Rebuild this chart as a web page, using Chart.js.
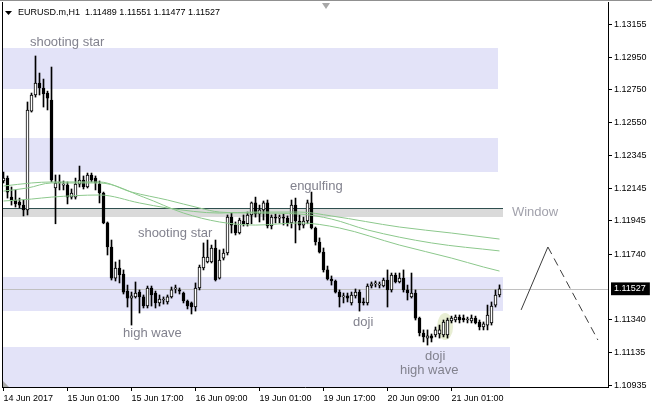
<!DOCTYPE html>
<html>
<head>
<meta charset="utf-8">
<script src="https://cdn.jsdelivr.net/npm/chart.js@4.4.1/dist/chart.umd.min.js"></script>
<style>
html, body { margin: 0; padding: 0; background: #fff; }
</style>
</head>
<body>
<canvas id="priceChart" width="652" height="409"></canvas>
<script>
// EURUSD.m H1, one bar per hour
var opens = [1.12190,1.12208,1.12091,1.12073,1.12061,1.12042,1.12012,1.12620,1.12719,1.12793,
  1.12762,1.12731,1.12688,1.12147,1.12178,1.12165,1.12165,1.12091,1.12091,1.12171,
  1.12196,1.12153,1.12227,1.12208,1.12171,1.12116,1.11932,1.11784,1.11593,1.11655,
  1.11618,1.11513,1.11470,1.11477,1.11507,1.11477,1.11421,1.11532,1.11501,1.11440,
  1.11458,1.11446,1.11477,1.11527,1.11520,1.11501,1.11452,1.11440,1.11415,1.11532,
  1.11655,1.11692,1.11692,1.11778,1.11593,1.11716,1.11747,1.11968,1.11919,1.11870,
  1.11944,1.11927,1.11981,1.12055,1.11987,1.12012,1.12055,1.11913,1.11968,1.11962,
  1.11968,1.11962,1.11932,1.12042,1.11944,1.11919,1.11944,1.12055,1.11901,1.11815,
  1.11753,1.11643,1.11587,1.11575,1.11507,1.11477,1.11483,1.11440,1.11483,1.11507,
  1.11446,1.11440,1.11544,1.11557,1.11550,1.11544,1.11581,1.11520,1.11612,1.11569,
  1.11593,1.11520,1.11477,1.11501,1.11347,1.11255,1.11224,1.11237,1.11243,1.11249,
  1.11243,1.11243,1.11329,1.11335,1.11353,1.11347,1.11335,1.11329,1.11347,1.11323,
  1.11292,1.11304,1.11317,1.11427,1.11489];
var highs = [1.12245,1.12221,1.12153,1.12135,1.12085,1.12073,1.12676,1.12731,1.12959,1.12854,
  1.12817,1.12743,1.12891,1.12227,1.12227,1.12190,1.12184,1.12141,1.12208,1.12282,
  1.12221,1.12239,1.12239,1.12221,1.12190,1.12122,1.11938,1.11827,1.11692,1.11704,
  1.11643,1.11550,1.11507,1.11569,1.11520,1.11489,1.11544,1.11544,1.11513,1.11489,
  1.11477,1.11489,1.11538,1.11550,1.11532,1.11507,1.11458,1.11446,1.11563,1.11673,
  1.11809,1.11827,1.11796,1.11827,1.11766,1.11772,1.11981,1.11993,1.11938,1.11962,
  1.11981,1.11999,1.12061,1.12091,1.12042,1.12067,1.12073,1.11981,1.11987,1.11981,
  1.11987,1.11975,1.12073,1.12085,1.11981,1.11968,1.12073,1.12122,1.11907,1.11840,
  1.11778,1.11667,1.11606,1.11581,1.11520,1.11501,1.11501,1.11507,1.11526,1.11520,
  1.11470,1.11557,1.11569,1.11575,1.11569,1.11593,1.11643,1.11624,1.11624,1.11624,
  1.11643,1.11550,1.11624,1.11520,1.11353,1.11274,1.11274,1.11249,1.11292,1.11304,
  1.11335,1.11347,1.11359,1.11366,1.11366,1.11366,1.11353,1.11366,1.11359,1.11335,
  1.11323,1.11427,1.11446,1.11520,1.11551];
var lows = [1.12178,1.12085,1.12042,1.12030,1.12024,1.11975,1.11981,1.12614,1.12706,1.12719,
  1.12645,1.12627,1.12184,1.11927,1.12135,1.12135,1.12049,1.12079,1.12079,1.12153,
  1.12141,1.12147,1.12184,1.12135,1.12055,1.11927,1.11735,1.11581,1.11575,1.11563,
  1.11495,1.11415,1.11304,1.11470,1.11378,1.11409,1.11409,1.11421,1.11409,1.11421,
  1.11433,1.11433,1.11470,1.11501,1.11495,1.11440,1.11403,1.11372,1.11390,1.11520,
  1.11643,1.11686,1.11686,1.11575,1.11587,1.11704,1.11735,1.11870,1.11858,1.11864,
  1.11913,1.11913,1.11927,1.11968,1.11938,1.11950,1.11901,1.11895,1.11932,1.11932,
  1.11919,1.11913,1.11901,1.11809,1.11889,1.11901,1.11927,1.11895,1.11796,1.11747,
  1.11630,1.11581,1.11550,1.11501,1.11415,1.11440,1.11446,1.11427,1.11470,1.11390,
  1.11427,1.11427,1.11532,1.11538,1.11532,1.11538,1.11415,1.11507,1.11563,1.11563,
  1.11507,1.11458,1.11470,1.11335,1.11237,1.11200,1.11181,1.11200,1.11231,1.11224,
  1.11231,1.11224,1.11317,1.11323,1.11317,1.11323,1.11317,1.11317,1.11311,1.11274,
  1.11274,1.11274,1.11304,1.11415,1.11477];
var closes = [1.12208,1.12122,1.12067,1.12049,1.12042,1.12012,1.12627,1.12719,1.12793,1.12762,
  1.12725,1.12700,1.12196,1.12178,1.12184,1.12165,1.12091,1.12116,1.12171,1.12196,
  1.12153,1.12227,1.12196,1.12178,1.12116,1.11932,1.11784,1.11593,1.11655,1.11612,
  1.11507,1.11470,1.11483,1.11501,1.11477,1.11421,1.11532,1.11489,1.11440,1.11464,
  1.11458,1.11477,1.11520,1.11532,1.11513,1.11452,1.11421,1.11415,1.11532,1.11661,
  1.11722,1.11722,1.11778,1.11581,1.11704,1.11747,1.11968,1.11919,1.11870,1.11950,
  1.11927,1.11981,1.12055,1.11987,1.12012,1.12055,1.11913,1.11968,1.11962,1.11968,
  1.11962,1.11932,1.12042,1.11944,1.11919,1.11944,1.12055,1.11901,1.11815,1.11753,
  1.11643,1.11587,1.11575,1.11507,1.11477,1.11477,1.11470,1.11489,1.11507,1.11440,
  1.11440,1.11544,1.11557,1.11557,1.11550,1.11581,1.11520,1.11612,1.11569,1.11593,
  1.11520,1.11501,1.11501,1.11347,1.11255,1.11231,1.11237,1.11224,1.11274,1.11274,
  1.11323,1.11335,1.11347,1.11353,1.11335,1.11335,1.11335,1.11347,1.11317,1.11292,
  1.11311,1.11366,1.11421,1.11489,1.11527];

// moving averages, sampled at a few bars
var maFastBars = [0, 6, 12, 24, 35, 45, 54, 63, 74, 84, 99, 112, 120, 124];
var maFastVals = [1.12128,1.12147,1.12178,1.12178,1.12091,1.11993,1.11938,1.11919,1.11932,1.11901,1.11796,1.11716,1.11661,1.11636];
var maMidBars = [0, 7, 12, 24, 32, 41, 49, 54, 63, 74, 82, 91, 107, 124];
var maMidVals = [1.12159,1.12178,1.12184,1.12184,1.12122,1.12073,1.12024,1.11999,1.11993,1.11987,1.11956,1.11889,1.11809,1.11760];
var maSlowBars = [0, 7, 12, 24, 34, 41, 54, 63, 74, 82, 99, 112, 124];
var maSlowVals = [1.12067,1.12079,1.12091,1.12104,1.12055,1.12024,1.11993,1.11999,1.11999,1.11975,1.11907,1.11870,1.11833];

var timeBars = [0, 16, 32, 48, 64, 80, 96, 112];
var timeLabels = ["14 Jun 2017", "15 Jun 01:00", "15 Jun 17:00", "16 Jun 09:00", "19 Jun 01:00", "19 Jun 17:00", "20 Jun 09:00", "21 Jun 01:00"];
var priceTicks = [1.13155, 1.12950, 1.12750, 1.12550, 1.12345, 1.12145, 1.11945, 1.11740, 1.11340, 1.11135, 1.10935];
var lastPrice = 1.11527;

// drawn objects: rectangles, texts, zigzag
var zoneTops = [1.13008, 1.12454, 1.12024, 1.11599, 1.11169];
var zoneBottoms = [1.12756, 1.12245, 1.11968, 1.11390, 1.10900];
var zoneEnds = [123.6, 123.6, 124.9, 124.9, 126.6];
var windowZone = 2;
var noteTexts = ["shooting star", "engulfing", "Window", "shooting star", "high wave", "doji", "doji", "high wave"];
var noteBars = [6.6, 71.6, 127.1, 33.6, 29.9, 87.4, 105.4, 99.1];
var notePrices = [1.13045, 1.12159, 1.11999, 1.11870, 1.11255, 1.11323, 1.11114, 1.11028];
var zigBars = [129.4, 136.1, 148.6];
var zigPrices = [1.11397, 1.11784, 1.11212];
var hiliteBar = 110.4, hilitePrice = 1.11295;

var tickFont = { family: '"Liberation Sans", Arial, sans-serif', size: 9 };

var bars = opens.map(function (v, i) { return i; });
var wickData = bars.map(function (i) {
  return { x: i, y: [Math.min(lows[i], opens[i], closes[i]), Math.max(highs[i], opens[i], closes[i])] };
});
var bodyData = bars.map(function (i) { return { x: i, y: [opens[i], closes[i]] }; });
var bodyFill = bars.map(function (i) { return closes[i] >= opens[i] ? '#ffffff' : '#000000'; });

function pts(xs, ys) {
  return xs.map(function (b, k) { return { x: b, y: ys[k] }; });
}

var chartDecor = {
  id: 'chartDecor',
  beforeDatasetsDraw: function (chart) {
    var c = chart.ctx, a = chart.chartArea, x = chart.scales.x, y = chart.scales.y;
    c.save();
    c.beginPath();
    c.rect(a.left, a.top, a.right - a.left, a.bottom - a.top);
    c.clip();
    zoneTops.forEach(function (t, k) {
      var xe = Math.round(x.getPixelForValue(zoneEnds[k]));
      var y1 = Math.round(y.getPixelForValue(t)), y2 = Math.round(y.getPixelForValue(zoneBottoms[k]));
      c.fillStyle = k === windowZone ? '#dadada' : '#e3e3f8';
      c.fillRect(a.left, y1, xe - a.left, y2 - y1);
      if (k === windowZone) {
        c.fillStyle = '#2f4f4f';
        c.fillRect(a.left, y1, xe - a.left, 1);
      }
    });
    // current price line
    var py = Math.round(y.getPixelForValue(lastPrice)) + 0.5;
    c.strokeStyle = '#c0c0c0';
    c.lineWidth = 1;
    c.beginPath();
    c.moveTo(a.left, py);
    c.lineTo(a.right, py);
    c.stroke();
    // highlight around the doji
    var cx = x.getPixelForValue(hiliteBar), cy = y.getPixelForValue(hilitePrice);
    var rx = x.getPixelForValue(hiliteBar + 2) - cx;
    var ry = y.getPixelForValue(hilitePrice - 0.00083) - cy;
    c.fillStyle = '#e8eed3';
    c.beginPath();
    c.ellipse(cx, cy, rx, ry, 0, 0, Math.PI * 2);
    c.fill();
    c.restore();
  },
  afterDatasetsDraw: function (chart) {
    var c = chart.ctx, x = chart.scales.x, y = chart.scales.y;
    c.save();
    c.font = '13px "Liberation Sans", Arial, sans-serif';
    c.textAlign = 'left';
    c.textBaseline = 'middle';
    noteTexts.forEach(function (t, k) {
      c.fillStyle = t === 'Window' ? '#a2a2ac' : '#82828e';
      c.fillText(t, x.getPixelForValue(noteBars[k]), y.getPixelForValue(notePrices[k]));
    });
    c.restore();
  },
  afterDraw: function (chart) {
    var c = chart.ctx, a = chart.chartArea;
    c.save();
    c.fillStyle = '#909090';
    c.fillRect(0, 0, chart.width, 1);
    c.fillStyle = '#000';
    c.fillRect(a.left, a.top, 1, a.bottom - a.top);
    // header
    c.beginPath();
    c.moveTo(5, 11); c.lineTo(12, 11); c.lineTo(8.5, 15); c.closePath();
    c.fill();
    c.font = '9px "Liberation Sans", Arial, sans-serif';
    c.textBaseline = 'middle';
    c.fillText('EURUSD.m,H1  1.11489 1.11551 1.11477 1.11527', 18, 13);
    // shift marker and corner marker
    c.fillStyle = '#a8a8a8';
    c.beginPath();
    c.moveTo(322, 3); c.lineTo(330, 3); c.lineTo(326, 9); c.closePath();
    c.fill();
    c.beginPath();
    c.moveTo(a.left + 1, a.bottom - 6); c.lineTo(a.left + 1, a.bottom); c.lineTo(a.left + 7, a.bottom); c.closePath();
    c.fill();
    c.restore();
  }
};

var config = {
  type: 'bar',
  data: {
    datasets: [{
      label: 'bodies',
      data: bodyData,
      backgroundColor: bodyFill,
      borderColor: '#000',
      borderWidth: 1,
      borderSkipped: false,
      barThickness: 3,
      minBarLength: 1,
      grouped: false,
      order: 2
    }, {
      label: 'wicks',
      data: wickData,
      backgroundColor: '#000',
      borderWidth: 0,
      barThickness: 1,
      grouped: false,
      order: 3
    }, {
      type: 'line', label: 'MA fast', data: pts(maFastBars, maFastVals),
      borderColor: '#8cc88c', borderWidth: 1, pointRadius: 0, cubicInterpolationMode: 'monotone', order: 1
    }, {
      type: 'line', label: 'MA mid', data: pts(maMidBars, maMidVals),
      borderColor: '#8cc88c', borderWidth: 1, pointRadius: 0, cubicInterpolationMode: 'monotone', order: 1
    }, {
      type: 'line', label: 'MA slow', data: pts(maSlowBars, maSlowVals),
      borderColor: '#8cc88c', borderWidth: 1, pointRadius: 0, cubicInterpolationMode: 'monotone', order: 1
    }, {
      type: 'line', label: 'up leg', data: pts(zigBars.slice(0, 2), zigPrices.slice(0, 2)),
      borderColor: '#3c3c3c', borderWidth: 1, pointRadius: 0, order: 0
    }, {
      type: 'line', label: 'down leg', data: pts(zigBars.slice(1), zigPrices.slice(1)),
      borderColor: '#3c3c3c', borderWidth: 1, borderDash: [8, 5], pointRadius: 0, order: 0
    }]
  },
  options: {
    responsive: false,
    devicePixelRatio: 1,
    animation: false,
    layout: { padding: { left: 2, top: 2, right: 0, bottom: 0 } },
    plugins: {
      legend: { display: false },
      tooltip: { enabled: false }
    },
    scales: {
      x: {
        type: 'linear',
        min: -0.375,
        max: 151.125,
        offset: false,
        grid: { display: true, offset: false, drawOnChartArea: false, drawTicks: true, tickLength: 4, color: '#000' },
        border: { display: true, color: '#000' },
        afterBuildTicks: function (s) { s.ticks = timeBars.map(function (v) { return { value: v }; }); },
        afterFit: function (s) { s.height = 22; s.paddingLeft = 0; s.paddingRight = 0; },
        ticks: {
          autoSkip: false, maxRotation: 0, minRotation: 0, align: 'start', padding: 2,
          color: '#000', font: tickFont,
          callback: function (v) { var k = timeBars.indexOf(v); return k < 0 ? '' : timeLabels[k]; }
        }
      },
      y: {
        type: 'linear',
        position: 'right',
        min: 1.10923,
        max: 1.13291,
        grid: {
          display: true, drawOnChartArea: false, drawTicks: true, tickLength: 4,
          color: function (ctx) { return ctx.tick && ctx.tick.value === lastPrice ? 'rgba(0,0,0,0)' : '#000'; }
        },
        border: { display: true, color: '#000' },
        afterBuildTicks: function (s) {
          s.ticks = priceTicks.concat([lastPrice]).sort(function (p, q) { return q - p; })
            .map(function (v) { return { value: v }; });
        },
        afterFit: function (s) { s.width = 44; s.paddingTop = 0; s.paddingBottom = 0; },
        ticks: {
          autoSkip: false, padding: 2, font: tickFont,
          color: function (ctx) { return ctx.tick && ctx.tick.value === lastPrice ? '#fff' : '#000'; },
          showLabelBackdrop: function (ctx) { return !!(ctx.tick && ctx.tick.value === lastPrice); },
          backdropColor: '#000',
          backdropPadding: { top: 1, bottom: 1, left: 3, right: 4 },
          callback: function (v) { return v.toFixed(5); }
        }
      }
    }
  },
  plugins: [chartDecor]
};

var ctx = document.getElementById("priceChart");
window.priceChart = new Chart(ctx, config);
</script>
</body>
</html>
